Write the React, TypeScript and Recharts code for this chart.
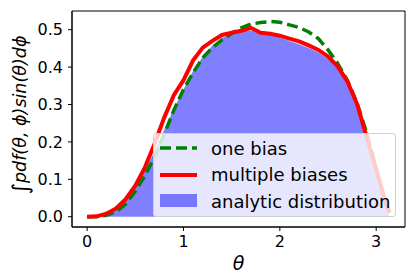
import React from 'react';
import { ComposedChart, Area, Line, XAxis, YAxis, Legend, Label, ReferenceArea } from 'recharts';

const theta = [0, 0.1, 0.2, 0.3, 0.4, 0.5, 0.6, 0.7, 0.8, 0.9, 1.0, 1.1, 1.2, 1.3, 1.4, 1.5, 1.6, 1.7, 1.8, 1.9, 2.0, 2.1, 2.2, 2.3, 2.4, 2.5, 2.6, 2.7, 2.8, 2.9, 3.0, 3.1, 3.14];
const analytic = [0, 0.001, 0.007, 0.018, 0.042, 0.076, 0.122, 0.175, 0.232, 0.29, 0.34, 0.39, 0.428, 0.458, 0.478, 0.49, 0.496, 0.498, 0.494, 0.487, 0.479, 0.47, 0.461, 0.451, 0.439, 0.421, 0.397, 0.358, 0.298, 0.212, 0.122, 0.033, 0];
const oneBias = [0, 0, 0.004, 0.013, 0.034, 0.068, 0.11, 0.16, 0.22, 0.285, 0.34, 0.385, 0.425, 0.452, 0.473, 0.49, 0.505, 0.515, 0.519, 0.522, 0.52, 0.513, 0.506, 0.494, 0.476, 0.446, 0.41, 0.365, 0.305, 0.225, 0.13, 0.035, 0.01];
const multipleBiases = [0, 0.001, 0.008, 0.022, 0.047, 0.083, 0.132, 0.195, 0.265, 0.325, 0.365, 0.418, 0.452, 0.47, 0.486, 0.492, 0.497, 0.505, 0.492, 0.489, 0.484, 0.476, 0.469, 0.458, 0.446, 0.428, 0.402, 0.362, 0.302, 0.214, 0.126, 0.036, 0.012];
const xTicks = [0, 1, 2, 3];
const yTicks = [0, 0.1, 0.2, 0.3, 0.4, 0.5];
const xDomain: [number, number] = [-0.157, 3.299];
const yDomain: [number, number] = [-0.0275, 0.55];

const data = theta.map((t, i) => ({
  theta: t,
  analytic: analytic[i],
  oneBias: oneBias[i],
  multipleBiases: multipleBiases[i],
}));

const FONT = 'DejaVu Sans, sans-serif';

const LegendBox = () => (
  <div
    style={{
      width: 243,
      height: 84,
      boxSizing: 'border-box',
      background: 'rgba(255,255,255,0.8)',
      border: '1px solid #d0d0d0',
      borderRadius: 3,
      fontFamily: FONT,
      fontSize: 18,
      color: '#000',
      paddingTop: 1,
    }}
  >
    {[
      { label: 'one bias', kind: 'dash' },
      { label: 'multiple biases', kind: 'line' },
      { label: 'analytic distribution', kind: 'patch' },
    ].map((it) => (
      <div key={it.label} style={{ display: 'flex', alignItems: 'center', height: 26.5 }}>
        <svg width={57} height={20} style={{ flex: 'none' }}>
          {it.kind === 'dash' && (
            <line x1={6} x2={43} y1={10} y2={10} stroke="green" strokeWidth={3.5} strokeDasharray="11 5" />
          )}
          {it.kind === 'line' && <line x1={6} x2={43} y1={10} y2={10} stroke="red" strokeWidth={4} />}
          {it.kind === 'patch' && <rect x={6} y={3} width={37} height={13} fill="#7676ff" />}
        </svg>
        <span style={{ whiteSpace: 'nowrap' }}>{it.label}</span>
      </div>
    ))}
  </div>
);

export default function App() {
  return (
    <ComposedChart
      width={408}
      height={271}
      data={data}
      margin={{ top: 3, right: 11, left: 0, bottom: 0 }}
    >
      <XAxis
        dataKey="theta"
        type="number"
        domain={xDomain}
        ticks={xTicks}
        height={52}
        tickSize={4}
        tickMargin={5}
        interval={0}
        axisLine={{ stroke: '#000', strokeWidth: 1 }}
        tickLine={{ stroke: '#000', strokeWidth: 1 }}
        tick={{ fill: '#000', fontSize: 16, fontFamily: FONT }}
        allowDataOverflow
      >
        <Label
          content={({ viewBox }: any) => (
            <text
              x={viewBox.x + viewBox.width / 2}
              y={viewBox.y + 43}
              textAnchor="middle"
              fontFamily={FONT}
              fontSize={19}
              fontStyle="italic"
              fill="#000"
            >
              θ
            </text>
          )}
        />
      </XAxis>
      <YAxis
        type="number"
        domain={yDomain}
        ticks={yTicks}
        width={64}
        tickSize={4}
        tickMargin={5}
        interval={0}
        tickFormatter={(v: number) => v.toFixed(1)}
        axisLine={{ stroke: '#000', strokeWidth: 1 }}
        tickLine={{ stroke: '#000', strokeWidth: 1 }}
        tick={{ fill: '#000', fontSize: 16, fontFamily: FONT }}
        allowDataOverflow
      >
        <Label
          content={({ viewBox }: any) => {
            const cx = 12;
            const cy = viewBox.y + viewBox.height / 2 - 4;
            return (
              <text
                x={cx}
                y={cy}
                transform={`rotate(-90 ${cx} ${cy})`}
                textAnchor="middle"
                dominantBaseline="central"
                fontFamily={FONT}
                fontSize={17.5}
                fill="#000"
              >
                <tspan fontSize={22}>∫</tspan>
                <tspan fontStyle="italic">pdf(θ, ϕ)sin(θ)dϕ</tspan>
              </text>
            );
          }}
        />
      </YAxis>
      <Area
        type="linear"
        dataKey="analytic"
        stroke="none"
        fill="#8080ff"
        fillOpacity={1}
        isAnimationActive={false}
        dot={false}
        activeDot={false}
      />
      <Line
        type="linear"
        dataKey="oneBias"
        stroke="green"
        strokeWidth={3.5}
        strokeDasharray="11 5"
        dot={false}
        activeDot={false}
        isAnimationActive={false}
      />
      <Line
        type="linear"
        dataKey="multipleBiases"
        stroke="red"
        strokeWidth={4}
        dot={false}
        activeDot={false}
        isAnimationActive={false}
      />
      <ReferenceArea
        x1={xDomain[0]}
        x2={xDomain[1]}
        y1={yDomain[0]}
        y2={yDomain[1]}
        fill="none"
        fillOpacity={0}
        stroke="#000"
        strokeWidth={1}
        ifOverflow="visible"
      />
      <Legend
        layout="horizontal"
        verticalAlign="middle"
        align="center"
        content={() => <LegendBox />}
        wrapperStyle={{ position: 'absolute', left: 145, top: 125, width: 243, height: 84 }}
      />
    </ComposedChart>
  );
}
